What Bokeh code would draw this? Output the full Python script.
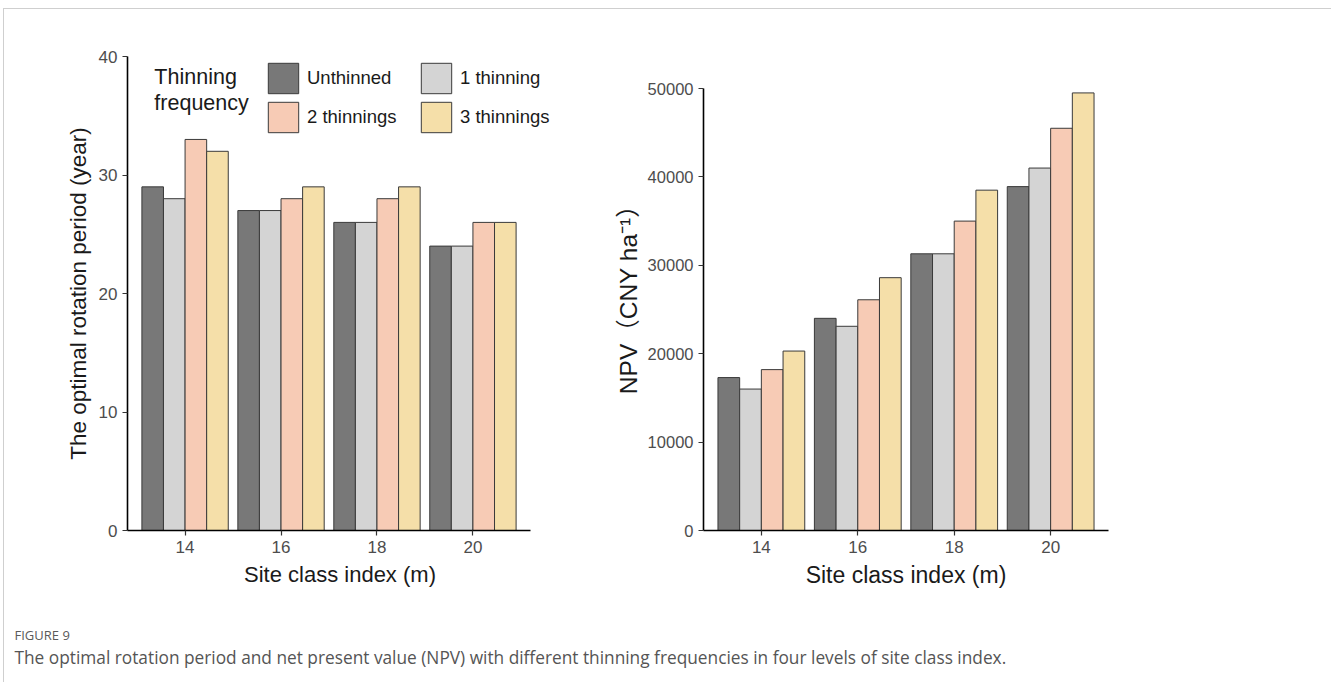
from bokeh.plotting import figure
from bokeh.models import Range1d, FixedTicker, Legend, LegendItem, Label, ColumnDataSource
from bokeh.layouts import row, column
from bokeh.transform import dodge
from bokeh.embed import file_html
from bokeh.resources import INLINE

# ---------------- data ----------------
sites = [14, 16, 18, 20]
series = ["Unthinned", "1 thinning", "2 thinnings", "3 thinnings"]

rotation_unthinned = [29, 27, 26, 24]
rotation_1_thinning = [28, 27, 26, 24]
rotation_2_thinnings = [33, 28, 28, 26]
rotation_3_thinnings = [32, 29, 29, 26]

npv_unthinned = [17300, 24000, 31300, 38900]
npv_1_thinning = [16000, 23100, 31300, 41000]
npv_2_thinnings = [18200, 26100, 35000, 45500]
npv_3_thinnings = [20300, 28600, 38500, 49500]

tick_labels = ["14", "16", "18", "20"]
rot_ticks = [0, 10, 20, 30, 40]
npv_ticks = [0, 10000, 20000, 30000, 40000, 50000]

# ---------------- style ----------------
colors = ["#787878", "#d4d4d4", "#f7cbb5", "#f5dfa9"]
offsets = [-0.675, -0.225, 0.225, 0.675]
bar_w = 0.45
X_LO, X_HI = 12.8, 21.2
FONT = "Liberation Sans"
TICK = "17px"

H = 591          # height of both panels
TOP = 47         # top border (both frames aligned)
BOTTOM = 70      # bottom border
FRAME_H = H - TOP - BOTTOM


def style_axes(p, title_size):
    p.xgrid.visible = False
    p.ygrid.visible = False
    p.outline_line_color = None
    p.background_fill_color = "white"
    p.border_fill_color = "white"
    for ax in (p.xaxis[0], p.yaxis[0]):
        ax.axis_line_color = "black"
        ax.axis_line_width = 1.6
        ax.major_tick_line_color = "#333333"
        ax.major_tick_line_width = 1.2
        ax.major_tick_out = 5
        ax.major_tick_in = 0
        ax.minor_tick_out = 0
        ax.minor_tick_in = 0
        ax.major_label_text_font = FONT
        ax.major_label_text_font_size = TICK
        ax.major_label_text_color = "#4d4d4d"
        ax.axis_label_text_font = FONT
        ax.axis_label_text_font_size = title_size
        ax.axis_label_text_font_style = "normal"
        ax.axis_label_text_color = "#1a1a1a"
    p.xaxis[0].ticker = FixedTicker(ticks=sites)
    p.xaxis[0].major_label_overrides = {s: t for s, t in zip(sites, tick_labels)}
    p.xaxis[0].bounds = (X_LO, X_HI)
    p.xaxis[0].major_label_standoff = 5
    p.xaxis[0].axis_label_standoff = 6
    p.yaxis[0].major_label_standoff = 5
    p.yaxis[0].axis_label_standoff = 5


def add_bars(p, src, cols):
    rs = []
    for col, off, c in zip(cols, offsets, colors):
        r = p.vbar(x=dodge("site", off, range=p.x_range), top=col, width=bar_w,
                   source=src, fill_color=c, line_color="#3a3a3a", line_width=1)
        rs.append(r)
    return rs


def make_legend(items, vx, vy):
    return Legend(items=items, location=(vx, vy), orientation="vertical",
                  glyph_width=38, glyph_height=38, spacing=1, padding=0, margin=0,
                  label_standoff=5, label_text_font=FONT, label_text_font_size="18.5px",
                  label_text_color="#1a1a1a", border_line_color=None,
                  background_fill_alpha=0)


# ---------------- left panel ----------------
W1, L1 = 600, 123
frame1_w = 425
px_per_unit = 403 / (X_HI - X_LO)
src_rot = ColumnDataSource(dict(site=sites, u=rotation_unthinned, t1=rotation_1_thinning,
                                t2=rotation_2_thinnings, t3=rotation_3_thinnings))
p1 = figure(width=W1, height=H, x_range=Range1d(X_LO, X_LO + frame1_w / px_per_unit),
            y_range=Range1d(0, 40),
            toolbar_location=None, output_backend="svg", title=None,
            min_border_left=L1, min_border_right=W1 - L1 - frame1_w, min_border_top=TOP,
            min_border_bottom=BOTTOM,
            x_axis_label="Site class index (m)",
            y_axis_label="The optimal rotation period (year)")
style_axes(p1, "22.5px")
p1.xaxis[0].axis_label_text_font_size = "22px"
p1.yaxis[0].ticker = FixedTicker(ticks=rot_ticks)
r1 = add_bars(p1, src_rot, ["u", "t1", "t2", "t3"])

leg_a = make_legend([LegendItem(label=series[0], renderers=[r1[0]]),
                     LegendItem(label=series[2], renderers=[r1[2]])], 137, 394)
leg_b = make_legend([LegendItem(label=series[1], renderers=[r1[1]]),
                     LegendItem(label=series[3], renderers=[r1[3]])], 290, 394)
p1.add_layout(leg_a)
p1.add_layout(leg_b)
for txt, yv in (("Thinning", 38.24), ("frequency", 36.05)):
    p1.add_layout(Label(x=13.36, y=yv, text=txt, text_font=FONT, text_font_size="21.5px",
                        text_color="#1a1a1a", text_baseline="middle", text_align="left"))

# ---------------- right panel ----------------
W2, L2 = 726, 99
frame2_h_data = 442  # pixels between 0 and 50000
src_npv = ColumnDataSource(dict(site=sites, u=npv_unthinned, t1=npv_1_thinning,
                                t2=npv_2_thinnings, t3=npv_3_thinnings))
p2 = figure(width=W2, height=H, x_range=Range1d(X_LO, X_HI),
            y_range=Range1d(0, npv_ticks[-1] * FRAME_H / frame2_h_data),
            toolbar_location=None, output_backend="svg", title=None,
            min_border_left=L2, min_border_right=W2 - L2 - 405, min_border_top=TOP,
            min_border_bottom=BOTTOM,
            x_axis_label="Site class index (m)",
            y_axis_label="NPV（CNY ha⁻¹）")
style_axes(p2, "23px")
p2.yaxis[0].ticker = FixedTicker(ticks=npv_ticks)
p2.yaxis[0].bounds = (0, npv_ticks[-1])
p2.yaxis[0].major_label_text_font_size = "16.5px"
p2.yaxis[0].axis_label_standoff = 3
p2.yaxis[0].axis_label_text_font_size = "24.5px"
p2.yaxis[0].axis_label_text_font = "Liberation Sans, 'Noto Sans CJK SC'"
add_bars(p2, src_npv, ["u", "t1", "t2", "t3"])

# ---------------- caption ----------------
cap = figure(width=1327, height=82, x_range=Range1d(0, 1327), y_range=Range1d(0, 82),
             toolbar_location=None, output_backend="svg", title=None, min_border=0,
             x_axis_location=None, y_axis_location=None)
cap.xgrid.visible = False
cap.ygrid.visible = False
cap.outline_line_color = None
cap.add_layout(Label(x=10, y=48, text="FIGURE 9", text_font="Open Sans",
                     text_font_size="13px", text_color="#5a5a5a", text_baseline="middle"))
cap.add_layout(Label(x=10, y=25,
                     text="The optimal rotation period and net present value (NPV) with different "
                          "thinning frequencies in four levels of site class index.",
                     text_font="Open Sans", text_font_size="17.3px", text_color="#555555",
                     text_baseline="middle"))

layout = column(row(p1, p2), cap, margin=(8, 0, 0, 3),
                styles={"border-top": "1px solid #cfcfcf", "border-left": "1px solid #cfcfcf"})

open("out.html", "w").write(file_html(layout, INLINE))
